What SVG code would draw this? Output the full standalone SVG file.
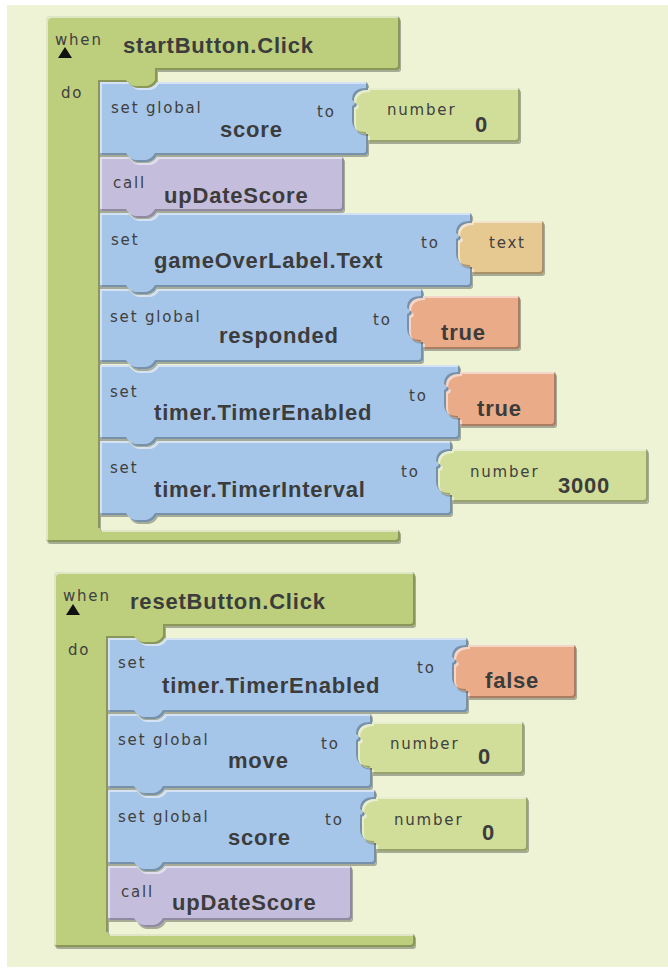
<svg xmlns="http://www.w3.org/2000/svg" width="668" height="968" viewBox="0 0 668 968">
  <defs>
    <!-- raised-tile look: light top/left rim, dark bottom/right rim, soft drop shadow -->
    <filter id="bevel" x="-5%" y="-10%" width="110%" height="125%">
      <feOffset in="SourceAlpha" dx="-2" dy="-2" result="up"/>
      <feComposite in="SourceAlpha" in2="up" operator="out" result="brEdge"/>
      <feFlood flood-color="#000" flood-opacity="0.5"/>
      <feComposite in2="brEdge" operator="in" result="dark"/>
      <feOffset in="SourceAlpha" dx="2" dy="2" result="down"/>
      <feComposite in="SourceAlpha" in2="down" operator="out" result="tlEdge"/>
      <feFlood flood-color="#fff" flood-opacity="0.45"/>
      <feComposite in2="tlEdge" operator="in" result="light"/>
      <feOffset in="SourceAlpha" dx="1" dy="1.5" result="sh"/>
      <feColorMatrix in="sh" type="matrix" values="0 0 0 0 0  0 0 0 0 0  0 0 0 0 0  0 0 0 0.3 0" result="shadow"/>
      <feMerge>
        <feMergeNode in="shadow"/>
        <feMergeNode in="SourceGraphic"/>
        <feMergeNode in="light"/>
        <feMergeNode in="dark"/>
      </feMerge>
    </filter>
  </defs>
  <style>
    .blk { filter: url(#bevel); }
    .event { fill: #bdcf7b; }
    .setter { fill: #a5c6e8; }
    .call { fill: #c4bedc; }
    .num { fill: #d1de99; }
    .bool { fill: #eaab88; }
    .txt { fill: #e6c891; }
    .s { font-family: "DejaVu Sans", "Noto Sans", sans-serif; font-size: 15px; letter-spacing: 1.8px; fill: #404040; }
    .b { font-family: "Liberation Sans", Arial, sans-serif; font-weight: bold; font-size: 22px; letter-spacing: 0.8px; fill: #3c3c3c; }
    .arrow { fill: #111; }
  </style>

  <rect x="0" y="0" width="668" height="968" fill="#ffffff"/>
  <rect x="7" y="5" width="661" height="962" fill="#edf3d4"/>

  <!-- ===== when startButton.Click ===== -->
  <g id="startButton-click">
    <path class="blk event" d="M46,20 Q46,16 50,16 H396 Q400,16 400,20 V67 Q400,70 397,70 H157 V82 Q153,88 147,88 H138 Q132,88 128,82 H100 V530 H397 Q400,530 400,533 V539 Q400,542 397,542 H50 Q46,542 46,538 Z"/>
    <text class="s" x="55" y="45">when</text>
    <polygon class="arrow" points="58,58 72,58 65,47"/>
    <text class="b" x="123" y="53">startButton.Click</text>
    <text class="s" x="61" y="98">do</text>
  </g>

  <g id="set-global-score-1">
    <path class="blk setter" d="M100,82 H128 Q132,88 138,88 H147 Q153,88 157,82 H365 Q368,82 368,85 V90 Q354,90 354,102 Q360,105 354,108 V122 Q354,134 368,134 V152 Q368,155 365,155 H157 Q153,162 147,162 H138 Q132,162 128,155 H100 Z"/>
    <text class="s" x="111" y="113">set global</text>
    <text class="b" x="220" y="137">score</text>
    <text class="s" x="317" y="117">to</text>
  </g>
  <g id="number-0-a">
    <path class="blk num" d="M368,88 H517 Q520,88 520,91 V139 Q520,142 517,142 H368 V134 Q354,134 354,122 V108 Q360,105 354,102 Q354,90 368,90 Z"/>
    <text class="s" x="387" y="115">number</text>
    <text class="b" x="475" y="132">0</text>
  </g>

  <g id="call-upDateScore-1">
    <path class="blk call" d="M100,157 H128 Q132,163 138,163 H147 Q153,163 157,157 H341 Q344,157 344,160 V208 Q344,211 341,211 H157 Q153,218 147,218 H138 Q132,218 128,211 H100 Z"/>
    <text class="s" x="113" y="188">call</text>
    <text class="b" x="164" y="203">upDateScore</text>
  </g>

  <g id="set-gameOverLabel-text">
    <path class="blk setter" d="M100,213 H128 Q132,219 138,219 H147 Q153,219 157,213 H469 Q472,213 472,216 V223 Q458,223 458,235 Q464,238 458,241 V255 Q458,267 472,267 V284 Q472,287 469,287 H157 Q153,294 147,294 H138 Q132,294 128,287 H100 Z"/>
    <text class="s" x="111" y="245">set</text>
    <text class="b" x="154" y="268">gameOverLabel.Text</text>
    <text class="s" x="421" y="248">to</text>
  </g>
  <g id="text-empty">
    <path class="blk txt" d="M472,221 H541 Q544,221 544,224 V271 Q544,274 541,274 H472 V267 Q458,267 458,255 V241 Q464,238 458,235 Q458,223 472,223 Z"/>
    <text class="s" x="489" y="248">text</text>
  </g>

  <g id="set-global-responded">
    <path class="blk setter" d="M100,289 H128 Q132,295 138,295 H147 Q153,295 157,289 H420 Q423,289 423,292 V298 Q409,298 409,310 Q415,313 409,316 V330 Q409,342 423,342 V359 Q423,362 420,362 H157 Q153,369 147,369 H138 Q132,369 128,362 H100 Z"/>
    <text class="s" x="110" y="322">set global</text>
    <text class="b" x="219" y="343">responded</text>
    <text class="s" x="373" y="325">to</text>
  </g>
  <g id="true-a">
    <path class="blk bool" d="M423,296 H517 Q520,296 520,299 V346 Q520,349 517,349 H423 V342 Q409,342 409,330 V316 Q415,313 409,310 Q409,298 423,298 Z"/>
    <text class="b" x="441" y="340">true</text>
  </g>

  <g id="set-timer-enabled-1">
    <path class="blk setter" d="M100,365 H128 Q132,371 138,371 H147 Q153,371 157,365 H457 Q460,365 460,368 V374 Q446,374 446,386 Q452,389 446,392 V406 Q446,418 460,418 V436 Q460,439 457,439 H157 Q153,446 147,446 H138 Q132,446 128,439 H100 Z"/>
    <text class="s" x="110" y="397">set</text>
    <text class="b" x="154" y="420">timer.TimerEnabled</text>
    <text class="s" x="409" y="401">to</text>
  </g>
  <g id="true-b">
    <path class="blk bool" d="M460,372 H553 Q556,372 556,375 V423 Q556,426 553,426 H460 V418 Q446,418 446,406 V392 Q452,389 446,386 Q446,374 460,374 Z"/>
    <text class="b" x="477" y="416">true</text>
  </g>

  <g id="set-timer-interval">
    <path class="blk setter" d="M100,441 H128 Q132,447 138,447 H147 Q153,447 157,441 H449 Q452,441 452,444 V451 Q438,451 438,463 Q444,466 438,469 V483 Q438,495 452,495 V512 Q452,515 449,515 H157 Q153,522 147,522 H138 Q132,522 128,515 H100 Z"/>
    <text class="s" x="110" y="473">set</text>
    <text class="b" x="154" y="497">timer.TimerInterval</text>
    <text class="s" x="401" y="477">to</text>
  </g>
  <g id="number-3000">
    <path class="blk num" d="M452,449 H645 Q648,449 648,452 V499 Q648,502 645,502 H452 V495 Q438,495 438,483 V469 Q444,466 438,463 Q438,451 452,451 Z"/>
    <text class="s" x="470" y="477">number</text>
    <text class="b" x="558" y="493">3000</text>
  </g>

  <!-- ===== when resetButton.Click ===== -->
  <g id="resetButton-click">
    <path class="blk event" d="M54,576 Q54,572 58,572 H411 Q415,572 415,576 V623 Q415,626 412,626 H165 V638 Q161,644 155,644 H146 Q140,644 136,638 H108 V934 H412 Q415,934 415,937 V944 Q415,947 412,947 H58 Q54,947 54,943 Z"/>
    <text class="s" x="63" y="601">when</text>
    <polygon class="arrow" points="66,615 80,615 73,604"/>
    <text class="b" x="130" y="609">resetButton.Click</text>
    <text class="s" x="68" y="655">do</text>
  </g>

  <g id="set-timer-enabled-2">
    <path class="blk setter" d="M108,638 H136 Q140,644 146,644 H155 Q161,644 165,638 H465 Q468,638 468,641 V647 Q454,647 454,659 Q460,662 454,665 V679 Q454,691 468,691 V709 Q468,712 465,712 H165 Q161,719 155,719 H146 Q140,719 136,712 H108 Z"/>
    <text class="s" x="118" y="668">set</text>
    <text class="b" x="162" y="693">timer.TimerEnabled</text>
    <text class="s" x="417" y="673">to</text>
  </g>
  <g id="false">
    <path class="blk bool" d="M468,645 H573 Q576,645 576,648 V695 Q576,698 573,698 H468 V691 Q454,691 454,679 V665 Q460,662 454,659 Q454,647 468,647 Z"/>
    <text class="b" x="485" y="688">false</text>
  </g>

  <g id="set-global-move">
    <path class="blk setter" d="M108,714 H136 Q140,720 146,720 H155 Q161,720 165,714 H369 Q372,714 372,717 V724 Q358,724 358,736 Q364,739 358,742 V756 Q358,768 372,768 V785 Q372,788 369,788 H165 Q161,795 155,795 H146 Q140,795 136,788 H108 Z"/>
    <text class="s" x="118" y="745">set global</text>
    <text class="b" x="228" y="768">move</text>
    <text class="s" x="321" y="749">to</text>
  </g>
  <g id="number-0-b">
    <path class="blk num" d="M372,722 H521 Q524,722 524,725 V771 Q524,774 521,774 H372 V768 Q358,768 358,756 V742 Q364,739 358,736 Q358,724 372,724 Z"/>
    <text class="s" x="390" y="749">number</text>
    <text class="b" x="478" y="764">0</text>
  </g>

  <g id="set-global-score-2">
    <path class="blk setter" d="M108,790 H136 Q140,796 146,796 H155 Q161,796 165,790 H373 Q376,790 376,793 V799 Q362,799 362,811 Q368,814 362,817 V831 Q362,843 376,843 V861 Q376,864 373,864 H165 Q161,871 155,871 H146 Q140,871 136,864 H108 Z"/>
    <text class="s" x="118" y="822">set global</text>
    <text class="b" x="228" y="845">score</text>
    <text class="s" x="325" y="825">to</text>
  </g>
  <g id="number-0-c">
    <path class="blk num" d="M376,797 H525 Q528,797 528,800 V848 Q528,851 525,851 H376 V843 Q362,843 362,831 V817 Q368,814 362,811 Q362,799 376,799 Z"/>
    <text class="s" x="394" y="825">number</text>
    <text class="b" x="482" y="840">0</text>
  </g>

  <g id="call-upDateScore-2">
    <path class="blk call" d="M108,866 H136 Q140,872 146,872 H155 Q161,872 165,866 H349 Q352,866 352,869 V917 Q352,920 349,920 H165 Q161,927 155,927 H146 Q140,927 136,920 H108 Z"/>
    <text class="s" x="121" y="897">call</text>
    <text class="b" x="172" y="910">upDateScore</text>
  </g>
</svg>
